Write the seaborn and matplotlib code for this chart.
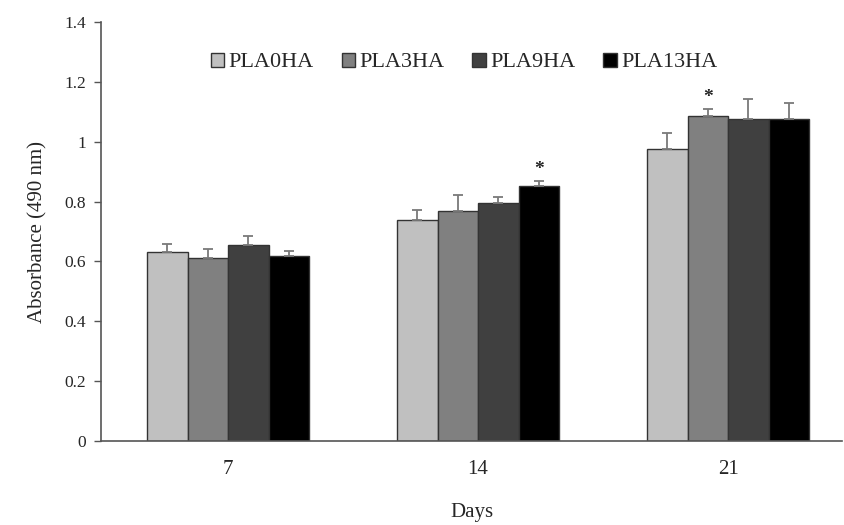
import matplotlib
matplotlib.use("Agg")
import matplotlib.pyplot as plt
import seaborn as sns
import pandas as pd
import numpy as np

days = ["7", "14", "21"]
groups = ["PLA0HA", "PLA3HA", "PLA9HA", "PLA13HA"]
absorbance = {
    "PLA0HA": [0.630, 0.737, 0.977],
    "PLA3HA": [0.612, 0.770, 1.086],
    "PLA9HA": [0.656, 0.794, 1.075],
    "PLA13HA": [0.618, 0.852, 1.075],
}
errors = {
    "PLA0HA": [0.027, 0.036, 0.053],
    "PLA3HA": [0.029, 0.051, 0.022],
    "PLA9HA": [0.029, 0.022, 0.067],
    "PLA13HA": [0.016, 0.016, 0.053],
}
# (group, day) pairs marked as significant
stars = [("PLA13HA", "14"), ("PLA3HA", "21")]
colors = ["#c0c0c0", "#808080", "#404040", "#000000"]

rows = []
for g in groups:
    for d, v, e in zip(days, absorbance[g], errors[g]):
        rows.append({"Days": d, "group": g, "value": v, "err": e})
df = pd.DataFrame(rows)

sns.set_style("white")
plt.rcParams["font.family"] = ["Liberation Serif", "DejaVu Serif"]

fig = plt.figure(figsize=(8.44, 5.25), dpi=100)
ax = fig.add_axes([0.1197, 0.16, 0.878, 0.798])

sns.barplot(data=df, x="Days", y="value", hue="group", order=days, hue_order=groups,
            palette=colors, errorbar=None, width=0.648, edgecolor="#333333",
            linewidth=1.0, saturation=1, ax=ax)

# one-sided error bars and stars
for i, g in enumerate(groups):
    cont = ax.containers[i]
    for j, bar in enumerate(cont):
        x = bar.get_x() + bar.get_width() / 2
        v = absorbance[g][j]
        e = errors[g][j]
        ax.errorbar(x, v, yerr=[[0], [e]], fmt="none", ecolor="#7a7a7a",
                    elinewidth=1.3, capsize=3.5, capthick=1.3, zorder=5)
        if (g, days[j]) in stars:
            ax.text(x, v + e + 0.01, "*", ha="center", va="bottom", fontsize=14,
                    fontweight="bold", color="#222222")

ax.set_ylim(0, 1.4)
ax.set_xlim(-0.508, 2.456)
ax.set_yticks(np.arange(0, 1.41, 0.2))
ax.set_yticklabels(["0", "0.2", "0.4", "0.6", "0.8", "1", "1.2", "1.4"], fontsize=12.5)
ax.tick_params(axis="x", length=0, labelsize=15, pad=14)
ax.tick_params(axis="y", length=5, width=1, color="#555555", direction="out", left=True, pad=6)

for s in ["top", "right"]:
    ax.spines[s].set_visible(False)
for s in ["left", "bottom"]:
    ax.spines[s].set_color("#555555")
    ax.spines[s].set_linewidth(1.2)

ax.set_xlabel("Days", fontsize=15, labelpad=17)
ax.set_ylabel("Absorbance (490 nm)", fontsize=15, labelpad=12)

ax.legend(loc="upper center", bbox_to_anchor=(0.49, 0.975), ncol=4, frameon=False,
          fontsize=16, handlelength=0.6, handleheight=0.6, handletextpad=0.2,
          columnspacing=1.25)

fig.savefig("out.png", dpi=100)
